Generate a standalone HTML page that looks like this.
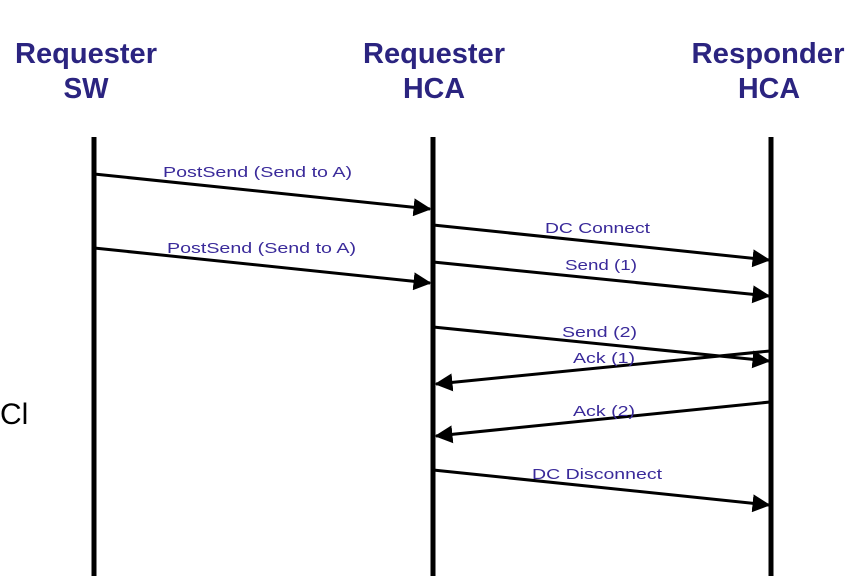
<!DOCTYPE html>
<html><head><meta charset="utf-8"><style>body{margin:0;background:#fff}svg{display:block}</style></head>
<body>
<svg width="858" height="576" viewBox="0 0 858 576" xmlns="http://www.w3.org/2000/svg">
<defs><marker id="a" markerWidth="6" markerHeight="6" refX="5.5" refY="3" orient="auto" markerUnits="strokeWidth"><path d="M0,0 L6,3 L0,6 z" fill="#000"/></marker></defs>
<g font-family="Liberation Sans, sans-serif" font-weight="bold" fill="#2b2480" font-size="29" text-anchor="middle">
<text x="86" y="63" textLength="142" lengthAdjust="spacingAndGlyphs">Requester</text>
<text x="86" y="98" textLength="45" lengthAdjust="spacingAndGlyphs">SW</text>
<text x="434" y="63" textLength="142" lengthAdjust="spacingAndGlyphs">Requester</text>
<text x="434" y="98" textLength="62" lengthAdjust="spacingAndGlyphs">HCA</text>
<text x="768" y="63" textLength="153" lengthAdjust="spacingAndGlyphs">Responder</text>
<text x="769" y="98" textLength="62" lengthAdjust="spacingAndGlyphs">HCA</text>
</g>
<text x="0" y="424" font-family="Liberation Sans, sans-serif" font-size="30" fill="#000">Cl</text>
<g stroke="#000" stroke-width="5"><line x1="94" y1="137" x2="94" y2="576"/><line x1="433" y1="137" x2="433" y2="576"/><line x1="771" y1="137" x2="771" y2="576"/></g>
<g stroke="#000" stroke-width="3" marker-end="url(#a)">
<line x1="94" y1="174" x2="430" y2="209"/>
<line x1="94" y1="248" x2="430" y2="283"/>
<line x1="433" y1="225" x2="769" y2="260"/>
<line x1="433" y1="262" x2="769" y2="296"/>
<line x1="433" y1="327" x2="769" y2="361"/>
<line x1="770" y1="351" x2="436" y2="384"/>
<line x1="770" y1="402" x2="436" y2="436"/>
<line x1="433" y1="470" x2="769" y2="505"/>
</g>
<g font-family="Liberation Sans, sans-serif" font-size="15" fill="#3a2a9a">
<text x="163" y="177" textLength="189" lengthAdjust="spacingAndGlyphs">PostSend (Send to A)</text>
<text x="167" y="253" textLength="189" lengthAdjust="spacingAndGlyphs">PostSend (Send to A)</text>
<text x="545" y="233" textLength="105" lengthAdjust="spacingAndGlyphs">DC Connect</text>
<text x="565" y="270" textLength="72" lengthAdjust="spacingAndGlyphs">Send (1)</text>
<text x="562" y="337" textLength="75" lengthAdjust="spacingAndGlyphs">Send (2)</text>
<text x="573" y="363" textLength="62" lengthAdjust="spacingAndGlyphs">Ack (1)</text>
<text x="573" y="416" textLength="62" lengthAdjust="spacingAndGlyphs">Ack (2)</text>
<text x="532" y="479" textLength="130" lengthAdjust="spacingAndGlyphs">DC Disconnect</text>
</g>
</svg>
</body></html>
